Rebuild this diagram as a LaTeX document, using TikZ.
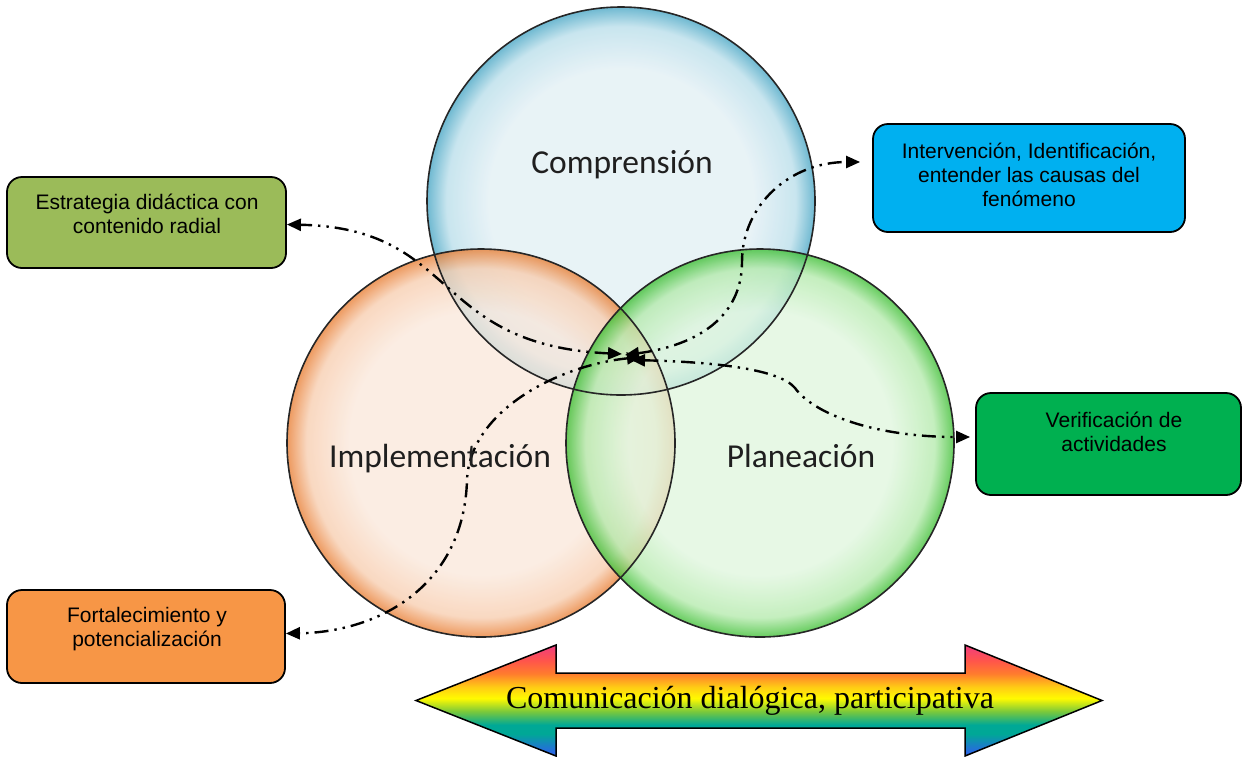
\documentclass[tikz,border=0pt]{standalone}
\usepackage{fontspec}
\setmainfont{Liberation Sans}
\newfontfamily\calibfont{Carlito}
\newfontfamily\serifont{Liberation Serif}
\usetikzlibrary{arrows.meta}
% bubble colours
\definecolor{bIn}{RGB}{226,239,244}
\definecolor{bMid}{RGB}{185,222,234}
\definecolor{bOut}{RGB}{70,165,196}
\definecolor{oIn}{RGB}{250,232,219}
\definecolor{oMid}{RGB}{247,205,175}
\definecolor{oOut}{RGB}{232,125,50}
\definecolor{gIn}{RGB}{224,246,222}
\definecolor{gMid}{RGB}{180,234,172}
\definecolor{gOut}{RGB}{60,190,50}
% box colours
\definecolor{estrC}{RGB}{155,187,89}
\definecolor{intC}{RGB}{0,176,240}
\definecolor{verC}{RGB}{0,176,80}
\definecolor{forC}{RGB}{247,150,70}
% rainbow
\definecolor{rbBlue}{RGB}{40,105,225}
\definecolor{rbTeal}{RGB}{0,168,150}
\definecolor{rbGreen}{RGB}{120,200,60}
\definecolor{rbYellow}{RGB}{255,250,0}
\definecolor{rbYO}{RGB}{255,205,20}
\definecolor{rbOrange}{RGB}{255,125,45}
\definecolor{rbRed}{RGB}{255,85,75}
\definecolor{rbPink}{RGB}{240,60,128}
\pgfdeclareradialshading{bubbleBlue}{\pgfpointorigin}{color(0bp)=(bIn); color(17bp)=(bIn); color(22.5bp)=(bMid); color(25bp)=(bOut); color(50bp)=(bOut)}
\pgfdeclareradialshading{bubbleOrange}{\pgfpointorigin}{color(0bp)=(oIn); color(17bp)=(oIn); color(22.5bp)=(oMid); color(25bp)=(oOut); color(50bp)=(oOut)}
\pgfdeclareradialshading{bubbleGreen}{\pgfpointorigin}{color(0bp)=(gIn); color(17bp)=(gIn); color(22.5bp)=(gMid); color(25bp)=(gOut); color(50bp)=(gOut)}
\pgfdeclareverticalshading{rainbow}{100bp}{color(0bp)=(rbBlue); color(27bp)=(rbBlue); color(35bp)=(rbTeal); color(39bp)=(rbTeal); color(45bp)=(rbGreen); color(51bp)=(rbYellow); color(56bp)=(rbYO); color(62bp)=(rbOrange); color(68bp)=(rbRed); color(75bp)=(rbPink); color(100bp)=(rbPink)}
\tikzset{
  tri/.tip={Triangle[length=14pt,width=12pt]},
  bubble/.style={circle, minimum size=388pt, inner sep=0pt, fill opacity=0.78, draw=none},
  rim/.style={draw=black!85, line width=1.6pt},
  box/.style={rectangle, rounded corners=15pt, draw=black, line width=1.8pt, inner sep=0pt},
  boxtext/.style={align=center, font=\fontsize{21}{24}\selectfont, text=black, inner sep=0pt},
  circtext/.style={font=\calibfont\fontsize{33.5}{40}\selectfont, text=black!88, anchor=base},
  conn/.style={line width=2.4pt, dash pattern=on 14pt off 6pt on 2.4pt off 6pt on 2.4pt off 6pt, tri-tri},
}
\begin{document}
\begin{tikzpicture}[x=1pt,y=-1pt]
\useasboundingbox (0,0) rectangle (1244,756);
% circles
\node[bubble, shading=bubbleBlue] (comp) at (621,201) {};
\node[bubble, shading=bubbleOrange] (impl) at (481,443) {};
\node[bubble, shading=bubbleGreen] (plan) at (760,443) {};
\draw[rim] (comp.center) circle[radius=194pt];
\draw[rim] (impl.center) circle[radius=194pt];
\draw[rim] (plan.center) circle[radius=194pt];
% boxes
\node[box, fill=estrC, minimum width=279pt, minimum height=91pt] (estr) at (146.5,222.5) {};
\node[box, fill=intC, minimum width=312pt, minimum height=108pt] (interv) at (1029,178) {};
\node[box, fill=verC, minimum width=265pt, minimum height=102pt] (verif) at (1108.5,444) {};
\node[box, fill=forC, minimum width=278pt, minimum height=93pt] (fort) at (146,636.5) {};
\node[boxtext] (testr) at (147,214) {Estrategia didáctica con\\contenido radial};
\node[boxtext] (tinterv) at (1029,175) {Intervención, Identificación,\\entender las causas del\\fenómeno};
\node[boxtext] (tverif) at (1114,432) {Verificación de\\actividades};
\node[boxtext] (tfort) at (147,629) {Fortalecimiento y\\potencialización};
% hub
\coordinate (hubA) at (622,354);
\coordinate (hubB) at (625,355);
\coordinate (hubC) at (631,360);
\coordinate (hubD) at (641,357);
% connectors
\draw[conn] (hubA) .. controls (430,345) and (460,228) .. ([yshift=-2pt]estr.east);
\draw[conn, shorten >=12pt] (hubB) .. controls (700,345) and (742,315) .. (742,262) .. controls (742,205) and (790,162) .. ([yshift=16pt]interv.west);
\draw[conn, shorten >=5pt] (hubC) .. controls (720,362) and (780,370) .. (795,388) .. controls (812,412) and (870,437) .. ([yshift=7pt]verif.west);
\draw[conn] (hubD) .. controls (560,365) and (470,410) .. (467,480) .. controls (464,585) and (380,632) .. ([yshift=3pt]fort.east);
% circle labels
\node[circtext] (tcomp) at (622,173) {Comprensión};
\node[circtext] (timpl) at (440,467) {Implementación};
\node[circtext] (tplan) at (801,467) {Planeación};
% rainbow double arrow
\shadedraw[shading=rainbow, draw=black, line width=1.5pt] (416,700.5) -- (556,645) -- (556,673) -- (965,673) -- (965,645) -- (1102,700.5) -- (965,756) -- (965,728) -- (556,728) -- (556,756) -- cycle;
\node[font=\serifont\fontsize{32}{36}\selectfont, anchor=base, inner sep=0pt] (comm) at (750,708) {Comunicación dialógica, participativa};
\end{tikzpicture}
\end{document}
